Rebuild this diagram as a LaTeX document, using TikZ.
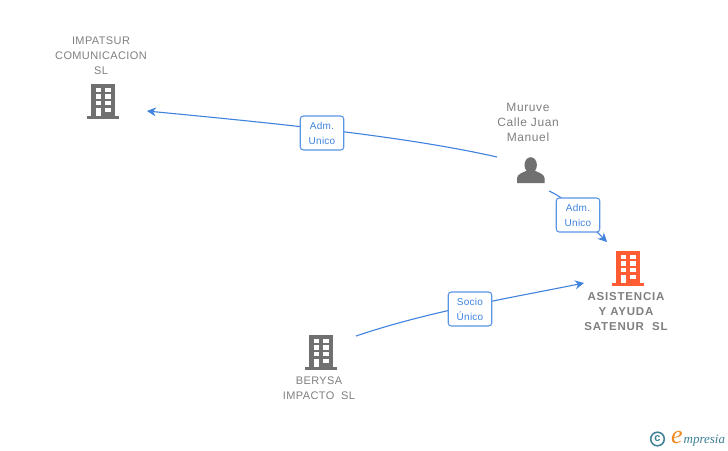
\documentclass[tikz,border=0pt]{standalone}
\usepackage{fontspec}
\setmainfont{Liberation Sans}
\newfontfamily\logofont{Liberation Serif}[ItalicFont=* Italic]
\definecolor{txtgrey}{HTML}{808080}
\definecolor{icongrey}{HTML}{707070}
\definecolor{iconorange}{HTML}{FF5C33}
\definecolor{linkblue}{HTML}{3F83DF}
\definecolor{boxblue}{HTML}{5B95E5}
\definecolor{logoteal}{HTML}{3F7F96}
\definecolor{logoorange}{HTML}{F08A1D}
\newcommand{\bldg}[3]{%
  \begin{scope}[shift={(#1,#2)}]
    \fill[#3] (-11.8,-17) rectangle (11.8,15);
    \fill[#3] (-16,14.5) rectangle (16,18);
    \foreach \yy in {-13.2,-6.6,0,6.6}{
      \fill[white] (-7.5,\yy) rectangle (-1.7,\yy+4.3);
      \fill[white] (2.2,\yy) rectangle (8,\yy+4.3);
    }
    \fill[white] (-7.5,6.6) rectangle (-1.7,15);
  \end{scope}}
\usetikzlibrary{arrows.meta}
\tikzset{
  ent/.style={text=txtgrey,align=center,font=\fontsize{11}{15}\selectfont\addfontfeature{LetterSpace=3.5},inner sep=0pt},
  entp/.style={text=txtgrey,align=center,font=\fontsize{12}{15}\selectfont\addfontfeature{LetterSpace=5},inner sep=0pt},
  entb/.style={text=txtgrey,align=center,font=\fontsize{11.5}{15}\selectfont\bfseries\addfontfeature{LetterSpace=7},inner sep=0pt},
  rel/.style={draw=boxblue,line width=1.1pt,fill=white,rounded corners=3pt,text=linkblue,align=center,
     minimum width=43.5pt,minimum height=34pt,inner sep=0pt,font=\fontsize{10}{15}\selectfont\addfontfeature{LetterSpace=2.5}},
  conn/.style={draw=linkblue,line width=1.1pt},
  tip/.style={-{Stealth[length=9pt,width=9pt,inset=3pt]}},
}
\begin{document}
\begin{tikzpicture}[x=1pt,y=-1pt]
\useasboundingbox (0,0) rectangle (728,450);
\fill[white] (0,0) rectangle (728,450);
% connector end points
\coordinate (m1) at (497,157);
\coordinate (i1) at (147,111);
\coordinate (m2) at (549,191);
\coordinate (a1) at (607,242);
\coordinate (b1) at (356,336);
\coordinate (a2) at (584,283);
\draw[conn,tip] (m1) .. controls (400,135) and (260,122) .. (i1);
\draw[conn,tip] (m2) .. controls (570,200) and (590,225) .. (a1);
\draw[conn,tip] (b1) .. controls (430,311) and (510,298) .. (a2);
% relation labels
\node[rel] (r1) at (322,133) {Adm.\\Unico};
\node[rel] (r2) at (578,215) {Adm.\\Unico};
\node[rel] (r3) at (470,309) {Socio\\Único};
% buildings
\bldg{103}{101}{icongrey}
\bldg{321}{352}{icongrey}
\bldg{628}{268}{iconorange}
% person
\fill[icongrey] (530.7,165) ellipse (6.2 and 7.8);
\fill[icongrey] (517,183) -- (517,178) .. controls (517.5,174) and (522,173) .. (527,170.5)
  -- (534.5,170.5) .. controls (539.5,173) and (544,174) .. (544.5,178) -- (544.5,183) -- cycle;
% texts
\node[ent] (t1) at (101,55.5) {IMPATSUR\\COMUNICACION\\SL};
\node[entp] (t2) at (528,122) {Muruve\\Calle Juan\\Manuel};
\node[entb] (t3) at (626,311.5) {ASISTENCIA\\Y AYUDA\\SATENUR\ \ SL};
\node[ent] (t4) at (319,388.5) {BERYSA\\IMPACTO\ \ SL};
% logo
\draw[logoteal,line width=1.5pt] (657.5,439) circle (6.8);
\node[text=logoteal,inner sep=0pt,font=\fontsize{11}{11}\selectfont\bfseries] (c) at (657.5,438.5) {c};
\node[text=logoorange,inner sep=0pt,anchor=base,font=\logofont\itshape\fontsize{26}{26}\selectfont] (e) at (677,443) {e};
\node[text=logoteal,inner sep=0pt,anchor=base west,font=\logofont\itshape\fontsize{13}{13}\selectfont] (l) at (683.5,443.5) {mpresia};
\end{tikzpicture}
\end{document}
